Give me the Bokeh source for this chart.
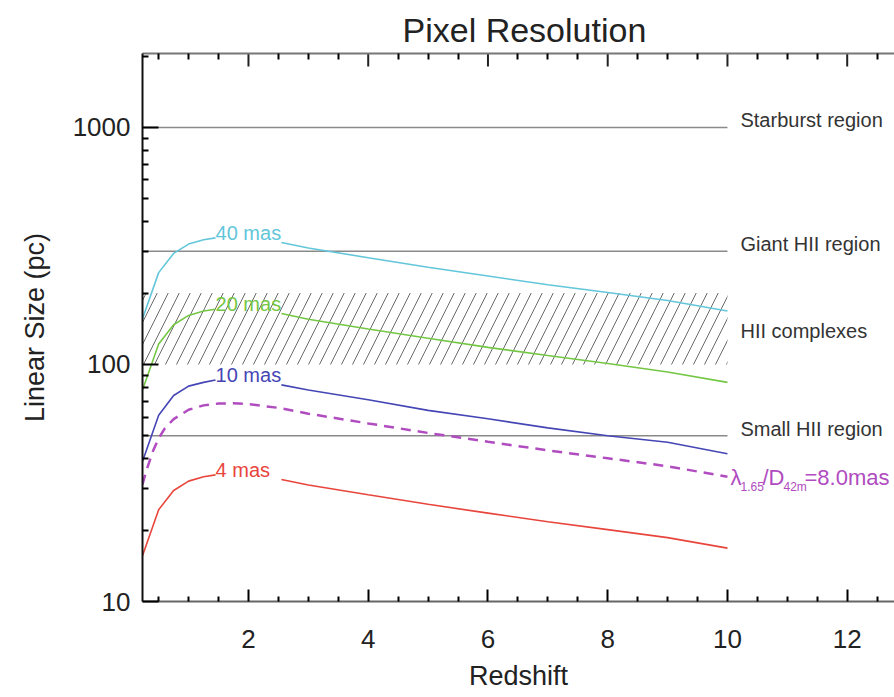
import numpy as np
from bokeh.plotting import figure
from bokeh.models import Range1d, LinearAxis, FixedTicker, Label
from bokeh.embed import file_html
from bokeh.resources import INLINE

nan = float("nan")

# ---- data ----
z = [0.23, 0.5, 0.75, 1.0, 1.25, 1.45, nan, 2.55, 3, 4, 5, 6, 7, 8, 9, 10]
size_40mas = [156, 244, 294, 322, 336, 342, nan, 327, 310, 282, 257, 236, 217, 201, 186, 168]
size_20mas = [78, 122, 147, 161, 168, 171, nan, 164, 155, 141, 129, 118, 109, 101, 93, 84]
size_10mas = [39, 61, 74, 81, 84, 86, nan, 82, 78, 71, 64, 59, 54, 50, 47, 42]
size_4mas = [15.6, 24.4, 29.4, 32.2, 33.6, 34.2, nan, 32.7, 31, 28.2, 25.7, 23.6, 21.7, 20.1, 18.6, 16.8]

z_diff = [0.23, 0.3, 0.4, 0.5, 0.6, 0.75, 1.0, 1.25, 1.5, 1.75, 2.0, 2.5, 3, 4, 5, 6, 7, 8, 9, 10]
size_diff = [31.2, 36, 42.8, 48.8, 53.6, 58.8, 64.4, 67.2, 68.4, 68.6, 68, 65.6, 62, 56.4, 51.4,
             47.2, 43.4, 40.2, 37.2, 33.6]

series_names = ["40 mas", "20 mas", "10 mas", "4 mas"]
series_values = [size_40mas, size_20mas, size_10mas, size_4mas]
series_colors = ["#63c6da", "#74c744", "#4546b5", "#e8453c"]
diff_label = ["\u03bb", "1.65", "/D", "42m", "=8.0mas"]
diff_color = "#b04cc0"

region_names = ["Starburst region", "Giant HII region", "Small HII region"]
region_sizes = [1000, 300, 50]
band_name = "HII complexes"
band_low, band_high = 100, 200
z_end = 10

title_text = "Pixel Resolution"
x_ticks = [2, 4, 6, 8, 10, 12]
x_minor = [0.5, 1, 1.5, 2.5, 3, 3.5, 4.5, 5, 5.5, 6.5, 7, 7.5, 8.5, 9, 9.5, 10.5, 11, 11.5, 12.5]
y_ticks = [10, 100, 1000]
y_tick_labels = ["10", "100", "1000"]
y_minor = [20, 30, 40, 50, 60, 70, 80, 90, 200, 300, 400, 500, 600, 700, 800, 900, 2000]

x_lo, x_hi = 0.23, 12.79
y_lo, y_hi = 10, 2050

FONT = "Liberation Sans"
TXT = "#222222"

p = figure(width=894, height=697, x_range=Range1d(x_lo, x_hi), y_range=Range1d(y_lo, y_hi),
           y_axis_type="log", output_backend="svg", toolbar_location=None,
           min_border_left=142, min_border_right=0, min_border_top=53, min_border_bottom=96)
p.outline_line_color = None
p.xgrid.visible = False
p.ygrid.visible = False
p.background_fill_color = "white"

p.title.text = title_text
p.title.text_font = FONT
p.title.text_font_size = "34px"
p.title.text_font_style = "normal"
p.title.text_color = TXT
p.title.align = "left"
p.title.offset = 260
p.title.standoff = 10

xt = FixedTicker(ticks=x_ticks, minor_ticks=x_minor)
yt = FixedTicker(ticks=y_ticks, minor_ticks=y_minor)

xa = p.xaxis[0]
xa.ticker = xt
xa.axis_label = "Redshift"
ya = p.yaxis[0]
ya.ticker = yt
ya.axis_label = "Linear Size (pc)"
ya.major_label_overrides = {v: s for v, s in zip(y_ticks, y_tick_labels)}

for ax in (xa, ya):
    ax.major_label_text_font = FONT
    ax.major_label_text_font_size = "26px"
    ax.major_label_text_color = TXT
    ax.axis_label_text_font = FONT
    ax.axis_label_text_font_size = "27px"
    ax.axis_label_text_font_style = "normal"
    ax.axis_label_text_color = TXT
    ax.major_tick_out = 0
    ax.minor_tick_out = 0
    ax.axis_line_width = 2
    ax.major_tick_line_width = 2
    ax.minor_tick_line_width = 2

xa.axis_line_color = "#666666"
xa.major_tick_in = 12
xa.minor_tick_in = 5
xa.major_label_standoff = 28
xa.axis_label_standoff = 10
ya.axis_line_color = "#111111"
ya.major_tick_in = 16
ya.minor_tick_in = 6
ya.major_label_standoff = 12
ya.axis_label_standoff = 20

# top frame edge: minor ticks from an axis without labels, major ticks as short rays
top = LinearAxis(ticker=FixedTicker(ticks=[], minor_ticks=x_minor), major_label_standoff=0,
                 major_tick_out=0, minor_tick_out=0, minor_tick_in=6,
                 axis_line_color="#777777", axis_line_width=2, minor_tick_line_width=2)
p.add_layout(top, "above")
p.ray(x=x_ticks, y=[y_hi] * len(x_ticks), length=13, length_units="screen",
      angle=-np.pi / 2, line_color="#222222", line_width=2)

# hatched band
p.quad(left=[x_lo], right=[z_end], bottom=[band_low], top=[band_high],
       fill_alpha=0, line_color=None, hatch_pattern="/", hatch_color="#6a6a6a",
       hatch_scale=22, hatch_weight=1)

# reference lines
p.segment(x0=[x_lo] * len(region_sizes), x1=[z_end] * len(region_sizes),
          y0=region_sizes, y1=region_sizes, line_color="#8a8a8a", line_width=1.5)

# curves
zz = np.array(z, dtype=float)
for name, vals, col in zip(series_names, series_values, series_colors):
    vv = np.array(vals, dtype=float)
    p.line(zz, vv, line_color=col, line_width=1.6)
    p.add_layout(Label(x=zz[5], y=vv[5], text=name, text_font=FONT, text_font_size="20px",
                       text_color=col, text_baseline="alphabetic", text_align="left",
                       x_offset=0, y_offset=5))

p.line(np.array(z_diff), np.array(size_diff), line_color=diff_color, line_width=2.5,
       line_dash="10 7")

# region labels
for name, v in zip(region_names, region_sizes):
    p.add_layout(Label(x=z_end, y=v, text=name, text_font=FONT, text_font_size="20px",
                       text_color="#333333", text_baseline="alphabetic", x_offset=13,
                       y_offset=7))
p.add_layout(Label(x=z_end, y=(band_low * band_high) ** 0.5, text=band_name, text_font=FONT,
                   text_font_size="20px", text_color="#333333", text_baseline="alphabetic",
                   x_offset=13, y_offset=-2))

# lambda/D label (composed with subscripts)
end_val = size_diff[-1]
offs = [3, 13, 35, 56, 77]
sizes = ["22px", "12px", "22px", "12px", "22px"]
yoffs = [-1, -10, -1, -10, -1]
for t, o, s, yo in zip(diff_label, offs, sizes, yoffs):
    p.add_layout(Label(x=z_end, y=end_val, text=t, text_font=FONT, text_font_size=s,
                       text_color=diff_color, text_baseline="alphabetic",
                       x_offset=o, y_offset=yo))

open("out.html", "w").write(file_html(p, INLINE))
